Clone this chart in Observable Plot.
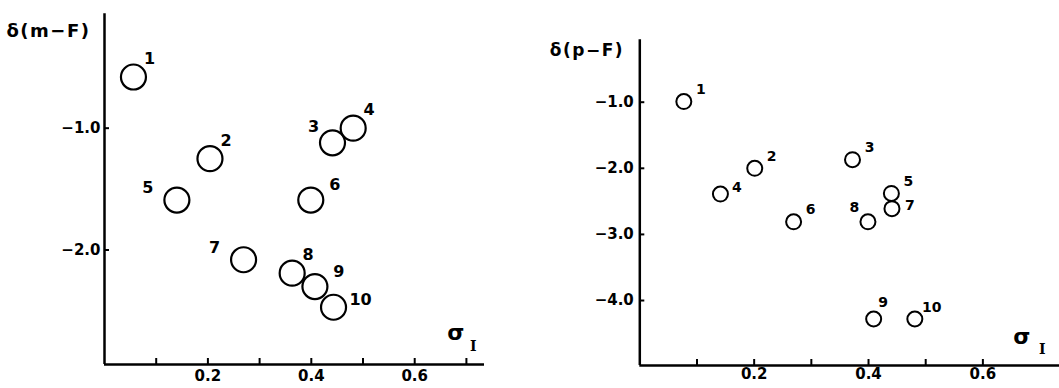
<!DOCTYPE html>
<html><head><meta charset="utf-8">
<script src="https://cdn.jsdelivr.net/npm/d3@7"></script>
<script src="https://cdn.jsdelivr.net/npm/@observablehq/plot@0.6"></script>
<style>
body{margin:0;background:#fff;}
#wrap{position:relative;width:1059px;height:388px;overflow:hidden;background:#fff;}
#left,#right{position:absolute;top:0;}
#left{left:0;} #right{left:530px;}
svg{overflow:visible;}
.ylab text{letter-spacing:1.5px;}
</style></head><body><div id="wrap"><div id="left"></div><div id="right"></div></div>
<script>
// ---- data ----
const ids = [1, 2, 3, 4, 5, 6, 7, 8, 9, 10];
// left panel: delta(m-F) vs sigma_I
const mSigma = [0.056, 0.204, 0.441, 0.481, 0.140, 0.399, 0.269, 0.363, 0.407, 0.443];
const mDelta = [-0.58, -1.25, -1.12, -1.00, -1.59, -1.59, -2.08, -2.19, -2.30, -2.47];
const mLabelPos = ["NE", "NE", "NW", "NE", "W", "ENE", "W", "NE", "ENE", "E"];
// right panel: delta(p-F) vs sigma_I
const pSigma = [0.077, 0.201, 0.372, 0.141, 0.440, 0.269, 0.441, 0.399, 0.409, 0.481];
const pDelta = [-0.99, -2.00, -1.87, -2.39, -2.38, -2.81, -2.61, -2.81, -4.28, -4.28];
const pLabelPos = ["NE", "NE", "NE", "ENE", "NE", "NE", "E", "NW", "N", "NE"];
// ticks
const xMinorTicksLeft = [0.1, 0.2, 0.3, 0.4, 0.5, 0.6, 0.7];
const xMinorTicksRight = [0.1, 0.2, 0.3, 0.4, 0.5, 0.6];
const xTickLabels = [0.2, 0.4, 0.6];
const mYTicks = [-1.0, -2.0];
const pYTicks = [-1.0, -2.0, -3.0, -4.0];
const mYLabel = "δ(m−F)";
const pYLabel = "δ(p−F)";
const xLabelMain = "σ";
const xLabelSub = "I";

const fmt = d3.format(".1f");
const FONT = "DejaVu Sans, sans-serif";

function panel(cfg) {
  const data = ids.map((id, i) => ({id, x: cfg.xs[i], y: cfg.ys[i], pos: cfg.pos[i]}));
  const yMin = cfg.yDomain[0];
  const labelMarks = Object.entries(cfg.offsets).map(([code, [dx, dy]]) =>
    Plot.text(data.filter(d => d.pos === code), {
      x: "x", y: "y", text: d => String(d.id), dx, dy,
      fontSize: cfg.labelSize, fontWeight: "bold", fill: "black"
    }));
  return Plot.plot({
    width: cfg.width, height: 388,
    marginLeft: cfg.ml, marginRight: cfg.mr, marginTop: cfg.mt, marginBottom: cfg.mb,
    x: {domain: cfg.xDomain},
    y: {domain: cfg.yDomain},
    style: {fontFamily: FONT, fontSize: cfg.tickFont + "px", fontWeight: "bold", background: "transparent", color: "black"},
    marks: [
      Plot.ruleX([0], {stroke: "black", strokeWidth: 2.5}),
      Plot.ruleY([yMin], {stroke: "black", strokeWidth: 2.5}),
      Plot.ruleX(cfg.xTicks, {x: d => d, y1: yMin, y2: yMin, insetTop: -6, stroke: "black", strokeWidth: 2}),
      Plot.ruleY(cfg.yTicks, {y: d => d, x1: 0, x2: 0, insetRight: -5, stroke: "black", strokeWidth: 2}),
      Plot.axisX({ticks: xTickLabels, tickSize: 0, tickPadding: cfg.xPad, tickFormat: fmt, label: null}),
      Plot.axisY({ticks: cfg.yTicks, tickSize: 0, tickPadding: cfg.yPad, tickFormat: fmt, label: null}),
      Plot.dot(data, {x: "x", y: "y", r: cfg.r, stroke: "black", strokeWidth: cfg.sw, fill: "none"}),
      ...labelMarks,
      Plot.text([cfg.yLabel], {text: d => d, frameAnchor: "top-left", textAnchor: "start", className: "ylab",
        dx: cfg.yLabDx, dy: cfg.yLabDy, fontSize: cfg.yLabSize, fontWeight: "bold", fill: "black"}),
      Plot.text([xLabelMain], {text: d => d, frameAnchor: "bottom-right",
        dx: cfg.sigDx, dy: cfg.sigDy, fontSize: 22, fontWeight: "bold", fill: "black"}),
      Plot.text([xLabelSub], {text: d => d, frameAnchor: "bottom-right", fontFamily: "DejaVu Serif, serif",
        dx: cfg.subDx, dy: cfg.subDy, fontSize: 14, fontWeight: "bold", fill: "black"})
    ]
  });
}

document.getElementById("left").appendChild(panel({
  xs: mSigma, ys: mDelta, pos: mLabelPos,
  width: 530, ml: 104, mr: 46, mt: 13.3, mb: 24,
  xDomain: [0, 0.735], yDomain: [-2.94, -0.061],
  xTicks: xMinorTicksLeft, yTicks: mYTicks,
  xPad: 6, tickFont: 15, yPad: 4, r: 12.5, sw: 2.2, labelSize: 16,
  offsets: {NE: [16, -18], NW: [-19, -16], W: [-29, -12], ENE: [24, -15], E: [27, -7]},
  yLabel: mYLabel, yLabSize: 18, yLabDx: -98, yLabDy: 10,
  sigDx: -20, sigDy: -25, subDx: -8, subDy: -14
}));

document.getElementById("right").appendChild(panel({
  xs: pSigma, ys: pDelta, pos: pLabelPos,
  width: 529, ml: 109.3, mr: 0, mt: 39.3, mb: 23,
  xDomain: [0, 0.734], yDomain: [-4.983, -0.056],
  xTicks: xMinorTicksRight, yTicks: pYTicks,
  xPad: 3, tickFont: 15, yPad: 6, r: 7.5, sw: 2, labelSize: 14,
  offsets: {NE: [17, -12], ENE: [16.5, -7], E: [18, -3], NW: [-13.5, -14.5], N: [9.5, -17]},
  yLabel: pYLabel, yLabSize: 17, yLabDx: -90, yLabDy: 4,
  sigDx: -29, sigDy: -22, subDx: -14, subDy: -12
}));
</script>
</body></html>
